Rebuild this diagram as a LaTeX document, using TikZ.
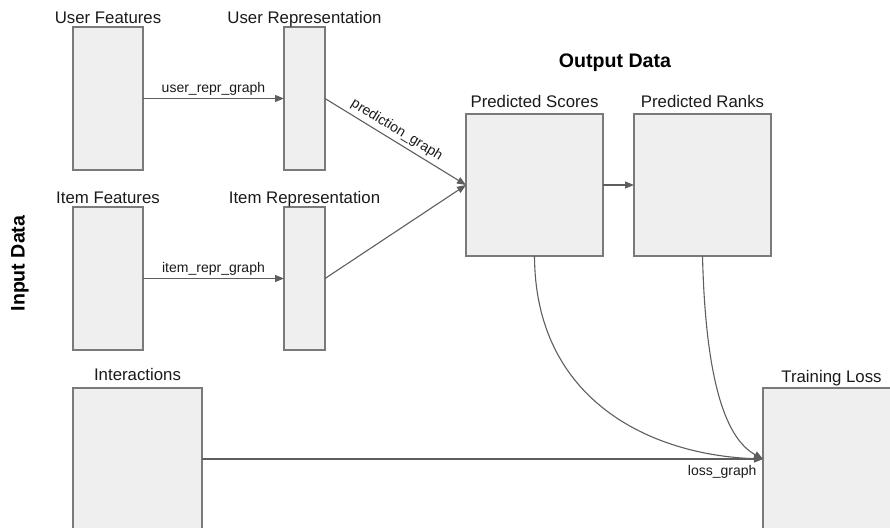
\documentclass[tikz,border=0pt]{standalone}
\usepackage{fontspec}
\setmainfont{Liberation Sans}
\usetikzlibrary{arrows.meta}

\definecolor{boxfill}{HTML}{EFEFEF}
\definecolor{boxline}{HTML}{7A7A7A}
\definecolor{wire}{HTML}{5E5E5E}
\definecolor{ink}{HTML}{1A1A1A}

\tikzset{
  box/.style={draw=boxline, fill=boxfill, line width=1.2pt, inner sep=0pt, outer sep=0pt},
  boxlabel/.style={text=ink, anchor=base, inner sep=0pt, font=\fontsize{16.8}{20}\selectfont},
  title/.style={text=black, inner sep=0pt, font=\fontsize{19.6}{23}\selectfont\bfseries},
  wirelabel/.style={text=ink, inner sep=2.5pt, font=\fontsize{14}{16}\selectfont},
  flow/.style={draw=wire, line width=1.1pt, -{Triangle[length=9pt,width=7pt]}},
}

\begin{document}
\begin{tikzpicture}[x=1pt, y=-1pt]
  \useasboundingbox (0,0) rectangle (890,527);
  \clip (0,0) rectangle (890,527);

  % boxes
  \node[box, minimum width=70pt,  minimum height=143pt] (uf) at (108,98.5) {};
  \node[box, minimum width=41pt,  minimum height=143pt] (ur) at (304.5,98.5) {};
  \node[box, minimum width=70pt,  minimum height=143pt] (itf) at (108,278.5) {};
  \node[box, minimum width=41pt,  minimum height=143pt] (itr) at (304.5,278.5) {};
  \node[box, minimum width=129pt, minimum height=142pt] (ia) at (137.5,459) {};
  \node[box, minimum width=137pt, minimum height=142pt] (ps) at (534.5,185) {};
  \node[box, minimum width=137pt, minimum height=142pt] (pr) at (702.5,185) {};
  \node[box, minimum width=137pt, minimum height=142pt] (tl) at (831.5,459) {};

  % box captions
  \node[boxlabel] (ufl)  at ([yshift=3pt]uf.north)  {User Features};
  \node[boxlabel] (url)  at ([yshift=3pt]ur.north)  {User Representation};
  \node[boxlabel] (itfl) at ([yshift=4pt]itf.north) {Item Features};
  \node[boxlabel] (itrl) at ([yshift=4pt]itr.north) {Item Representation};
  \node[boxlabel] (ial)  at ([yshift=7.5pt]ia.north) {Interactions};
  \node[boxlabel] (psl)  at ([yshift=7pt]ps.north)  {Predicted Scores};
  \node[boxlabel] (prl)  at ([yshift=7pt]pr.north)  {Predicted Ranks};
  \node[boxlabel] (tll)  at ([yshift=6pt]tl.north)  {Training Loss};

  % section titles
  \node[title] (out) at (615,63) {Output Data};
  \node[title, rotate=90] (inp) at (20,263.5) {Input Data};

  % connectors
  \draw[flow] (uf.east) -- node[wirelabel, above] {user\_repr\_graph} (ur.west);
  \draw[flow] (itf.east) -- node[wirelabel, above] {item\_repr\_graph} (itr.west);
  \draw[flow] (ur.east) -- node[wirelabel, above, sloped, pos=0.47, yshift=1pt] {prediction\_graph} (ps.west);
  \draw[flow] (itr.east) -- (ps.west);
  \draw[flow] (ps.east) -- (pr.west);
  \draw[flow] (ia.east) -- node[wirelabel, pos=1, anchor=north east, inner sep=0pt, xshift=-6pt, yshift=-6pt] {loss\_graph} (tl.west);
  \draw[flow] (ps.south) .. controls (535,400) and (650,455) .. (tl.west);
  \draw[flow] (pr.south) .. controls (706,400) and (732,442) .. (tl.west);
\end{tikzpicture}
\end{document}
